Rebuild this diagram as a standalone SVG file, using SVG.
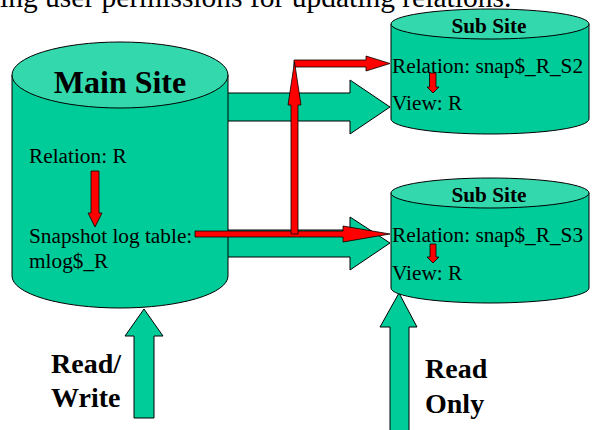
<svg xmlns="http://www.w3.org/2000/svg" width="595" height="430" viewBox="0 0 595 430">
<style>
.body{fill:#00CC99;stroke:#000;stroke-width:1}
.top{fill:#33D9AC;stroke:#000;stroke-width:1}
.ga{fill:#00CC99;stroke:#000;stroke-width:1}
.ra{fill:#FF0000;stroke:#000;stroke-width:0.8}
.t{font-family:"Liberation Serif","Times New Roman",serif;fill:#000}
.r{font-size:21.3px}
.b{font-weight:bold}
</style>
<rect width="595" height="430" fill="#fff"/>
<text class="t" x="0" y="7" font-size="29.5">ing user permissions for updating relations.</text>
<g id="connectors">
<polygon class="ga" points="220,93 350,93 350,80 390,107 350,134 350,121 220,121"/>
<polygon class="ga" points="220,230 350,230 350,217 390,243 350,270 350,257 220,257"/>
<polygon class="ga" points="134,418 134,336 125,336 144,309 163,336 154,336 154,418"/>
<polygon class="ga" points="390,431 390,327 380,327 399,293 417,327 409,327 409,431"/>
</g>
<g id="main-site">
<path class="body" d="M12,75 L12,276 A108,32 0 0 0 228,276 L228,75 Z"/>
<ellipse class="top" cx="120" cy="75" rx="108" ry="33"/>
<text class="t b" x="120" y="93" font-size="32" text-anchor="middle">Main Site</text>
<text class="t r" x="29" y="163">Relation: R</text>
<text class="t r" x="29" y="243">Snapshot log table:</text>
<text class="t r" x="29" y="268">mlog$_R</text>
<polygon class="ra" points="91,171 99,171 99,213 102,213 95,227 88,213 91,213"/>
</g>
<g id="sub-site-1">
<path class="body" d="M391,24 L391,119 A99,15 0 0 0 589,119 L589,24 Z"/>
<ellipse class="top" cx="490" cy="24" rx="99" ry="15"/>
<text class="t b" x="489" y="32.7" font-size="21.3" text-anchor="middle">Sub Site</text>
<text class="t r" x="392" y="73">Relation: snap$_R_S2</text>
<text class="t r" x="392" y="110">View: R</text>
<polygon class="ra" points="429.5,73 436,73 436,87 439,87 433,93 427,87 429.5,87"/>
</g>
<g id="sub-site-2">
<path class="body" d="M391,193 L391,288 A99,15 0 0 0 589,288 L589,193 Z"/>
<ellipse class="top" cx="490" cy="193" rx="99" ry="15"/>
<text class="t b" x="489" y="202" font-size="21.3" text-anchor="middle">Sub Site</text>
<text class="t r" x="392" y="242">Relation: snap$_R_S3</text>
<text class="t r" x="392" y="280">View: R</text>
<polygon class="ra" points="430,244 436,244 436,257 439,257 433,263 427,257 430,257"/>
</g>
<g id="red-connectors">
<polygon class="ra" points="195,231 343,231 343,226 390,234 343,242 343,237 195,237"/>
<polygon class="ra" points="294,60 366,60 366,56 390,63.5 366,71 366,67 294,67"/>
<polygon class="ra" points="291,234 291,105 288,105 294.5,62 301,105 298,105 298,234"/>
</g>
<g id="labels">
<text class="t b" x="51" y="373" font-size="28">Read/</text>
<text class="t b" x="51" y="407" font-size="28">Write</text>
<text class="t b" x="425" y="378" font-size="28">Read</text>
<text class="t b" x="425" y="413" font-size="28">Only</text>
</g>
</svg>
